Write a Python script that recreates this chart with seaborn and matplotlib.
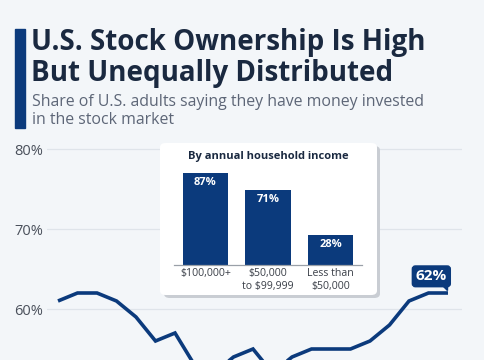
import matplotlib
matplotlib.use("Agg")
import matplotlib.pyplot as plt
import matplotlib.patches as mpatches
import matplotlib.transforms as mtransforms
import seaborn as sns
import pandas as pd

# ---- data ----
years = list(range(2005, 2026))
share = [61, 62, 62, 61, 59, 56, 57, 53, 52, 54, 55, 52, 54, 55, 55, 55, 56, 58, 61, 62, 62]
yticks = [60, 70, 80]
ytick_labels = ["60%", "70%", "80%"]

income_groups = ["$100,000+", "$50,000\nto $99,999", "Less than\n$50,000"]
income_share = [87, 71, 28]
income_labels = ["87%", "71%", "28%"]

title = "U.S. Stock Ownership Is High\nBut Unequally Distributed"
subtitle = "Share of U.S. adults saying they have money invested\nin the stock market"
inset_title = "By annual household income"
last_label = "62%"

# ---- style ----
BG = "#f3f6f9"
NAVY = "#0b3a7c"
TITLE_C = "#1a2940"
SUB_C = "#5d6677"
TICK_C = "#4a505b"
GRID_C = "#dfe4ea"

sns.set_theme(style="white")
plt.rcParams["font.family"] = ["Open Sans", "DejaVu Sans"]

W, H = 485, 360
fig = plt.figure(figsize=(W / 100, H / 100), dpi=100, facecolor=BG)

def fx(px):
    return px / W

def fy(py):
    return 1 - py / H

# accent bar + titles
fig.patches.append(mpatches.Rectangle((fx(15), fy(128)), fx(10), (128 - 29) / H,
                                      transform=fig.transFigure, color=NAVY, zorder=1))
fig.text(fx(31), fy(28), title, fontsize=20, fontweight="bold", color=TITLE_C,
         va="top", ha="left", linespacing=1.08)
fig.text(fx(32), fy(94), subtitle, fontsize=11.4, color=SUB_C, va="top", ha="left",
         linespacing=1.2)

# ---- main line chart ----
ax = fig.add_axes([fx(47), 0, fx(462) - fx(47), (H - 140) / H])
ax.set_facecolor(BG)
df = pd.DataFrame({"year": years, "share": share})
sns.lineplot(data=df, x="year", y="share", ax=ax, color=NAVY, linewidth=2.6,
             solid_capstyle="butt", solid_joinstyle="miter")
sp = 19.5
ax.set_xlim(years[0] - (58 - 47) / sp, years[-1] + (462 - 448) / sp)
ax.set_ylim(60 - 51 / 8, 80 + 9 / 8)
ax.set_yticks(yticks)
ax.set_yticklabels(ytick_labels)
ax.tick_params(axis="y", length=0, pad=3, labelsize=10.5, labelcolor=TICK_C)
ax.set_xticks([])
ax.set_xlabel("")
ax.set_ylabel("")
ax.grid(axis="y", color=GRID_C, linewidth=0.9)
for s in ax.spines.values():
    s.set_visible(False)

# last value label with tail
ax.annotate(last_label, xy=(years[-1], share[-1]), xytext=(-12, 12),
            textcoords="offset points", ha="center", va="center",
            fontsize=11, fontweight="bold", color="white",
            bbox=dict(boxstyle="round,pad=0.22,rounding_size=0.2", fc=NAVY, ec=NAVY))
tr = fig.dpi_scale_trans + mtransforms.ScaledTranslation(years[-1], share[-1], ax.transData)
tail = mpatches.Polygon([(-0.06, 0.085), (-0.005, 0.085), (-0.005, 0.035)], closed=True,
                        transform=tr, color=NAVY, zorder=5)
ax.add_patch(tail)

# ---- inset box ----
shadow = mpatches.FancyBboxPatch((fx(164), fy(298)), fx(380) - fx(164), (298 - 146) / H,
                                 boxstyle="round,pad=0,rounding_size=0.012",
                                 transform=fig.transFigure, fc="#c9cdd3", ec="none", zorder=2)
box = mpatches.FancyBboxPatch((fx(160), fy(295)), fx(377) - fx(160), (295 - 143) / H,
                              boxstyle="round,pad=0,rounding_size=0.012",
                              transform=fig.transFigure, fc="white", ec="none", zorder=3)
fig.patches.extend([shadow, box])
fig.text(fx(268.5), fy(156), inset_title, fontsize=8.0, fontweight="bold",
         color=TITLE_C, ha="center", va="center", zorder=4)

ax2 = fig.add_axes([fx(174), fy(265), fx(362) - fx(174), 106 / H], zorder=4)
ax2.patch.set_alpha(0)
dfb = pd.DataFrame({"group": income_groups, "share": income_share})
sns.barplot(data=dfb, x="group", y="share", ax=ax2, color=NAVY, saturation=1,
            width=0.72, linewidth=0)
ax2.set_xlim(-0.5, 2.5)
ax2.set_ylim(0, 100)
for i, (v, lab) in enumerate(zip(income_share, income_labels)):
    ax2.annotate(lab, xy=(i, v), xytext=(0, -3), textcoords="offset points",
                 ha="center", va="top", fontsize=8, fontweight="bold", color="white")
ax2.set_yticks([])
ax2.set_xlabel("")
ax2.set_ylabel("")
ax2.tick_params(axis="x", length=0, pad=2.5, labelsize=7.6, labelcolor="#3a3f48")
for lbl in ax2.get_xticklabels():
    lbl.set_linespacing(1.15)
for k, s in ax2.spines.items():
    s.set_visible(k == "bottom")
ax2.spines["bottom"].set_color("#9aa0a8")
ax2.spines["bottom"].set_linewidth(0.9)

fig.savefig("out.png", dpi=100, facecolor=BG)
